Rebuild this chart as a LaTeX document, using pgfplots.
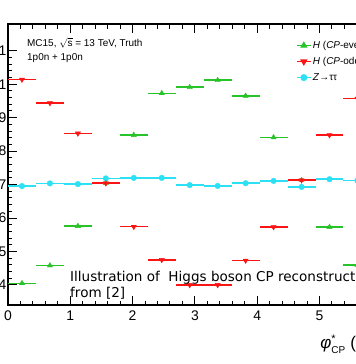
\documentclass[border=0pt]{standalone}
\usepackage{fontspec}
\setmainfont{Liberation Sans}
\newfontfamily\ovfont{DejaVu Sans}
\usepackage{pgfplots}
\usepackage{pgfplotstable}
\pgfplotsset{compat=1.18}
\pgfplotsset{mylegend/.style={legend image code/.code={\draw[mark repeat=2,mark phase=2,##1] plot coordinates {(0bp,0bp)(7bp,0bp)(14bp,0bp)};}}}
\definecolor{cgreen}{RGB}{40,195,40}
\definecolor{cred}{RGB}{250,20,20}
\definecolor{ccyan}{RGB}{45,225,245}
\pgfplotstableread{
x y ex
0.2244 0.0405 0.2244
0.6732 0.0458 0.2244
1.1220 0.0576 0.2244
1.5708 0.0704 0.2244
2.0196 0.0848 0.2244
2.4684 0.0973 0.2244
2.9172 0.0991 0.2244
3.3660 0.1012 0.2244
3.8148 0.0965 0.2244
4.2636 0.0841 0.2244
4.7124 0.0713 0.2244
5.1612 0.0573 0.2244
5.6100 0.0460 0.2244
6.0588 0.0406 0.2244
}\greentab
\pgfplotstableread{
x y ex
0.2244 0.1014 0.2244
0.6732 0.0944 0.2244
1.1220 0.0853 0.2244
1.5708 0.0704 0.2244
2.0196 0.0574 0.2244
2.4684 0.0475 0.2244
2.9172 0.0400 0.2244
3.3660 0.0400 0.2244
3.8148 0.0473 0.2244
4.2636 0.0573 0.2244
4.7124 0.0713 0.2244
5.1612 0.0848 0.2244
5.6100 0.0957 0.2244
6.0588 0.1010 0.2244
}\redtab
\pgfplotstableread{
x y ex
0.2244 0.06955 0.2244
0.6732 0.07036 0.2244
1.1220 0.07015 0.2244
1.5708 0.07185 0.2244
2.0196 0.0720 0.2244
2.4684 0.0720 0.2244
2.9172 0.06985 0.2244
3.3660 0.0696 0.2244
3.8148 0.0704 0.2244
4.2636 0.0711 0.2244
4.7124 0.0693 0.2244
5.1612 0.0716 0.2244
5.6100 0.0712 0.2244
6.0588 0.0702 0.2244
}\cyantab
\begin{document}
\begin{tikzpicture}
\useasboundingbox (-8bp,-59bp) rectangle (348bp,305bp);
\clip (-8bp,-59bp) rectangle (348bp,305bp);
\begin{axis}[
  at={(0,0)}, anchor=south west,
  scale only axis, width=391.4bp, height=281bp,
  xmin=0, xmax=6.2832, ymin=0.034, ymax=0.118,
  xtick={0,1,2,3,4,5,6}, minor x tick num=4,
  ytick={0.04,0.05,0.06,0.07,0.08,0.09,0.10,0.11},
  yticklabels={0.04,0.05,0.06,0.07,0.08,0.09,0.1,0.11},
  minor y tick num=4,
  tick align=inside,
  major tick length=9bp, minor tick length=4.5bp,
  axis line style={line width=1.2bp},
  every tick/.style={black, line width=1bp},
  /pgf/number format/assume math mode=true,
  ticklabel style={font=\fontsize{14}{16}\selectfont},
  yticklabel style={anchor=east, inner sep=0pt, xshift=-1.3bp},
  xticklabel style={anchor=north, inner sep=0pt, yshift=-6bp},
  xlabel={\textit{φ}$^{\mbox{\fontsize{11}{12}\selectfont *}}_{\mbox{\fontsize{10}{12}\selectfont CP}}$ (rad)},
  xlabel style={at={(axis description cs:1,0)}, anchor=north east, inner sep=0pt, yshift=-30bp, xshift=-13bp, font=\fontsize{17}{20}\selectfont},
  legend style={at={(0.7358,0.947)}, anchor=north west, draw=none, fill=none, inner sep=0pt, row sep=3bp,
    font=\fontsize{10}{12}\selectfont, nodes={inner sep=1.5bp, text height=7.5bp, text depth=2.5bp}},
  legend cell align=left,
]
\addlegendimage{cgreen, line width=1.3bp, mark=triangle*, mark size=3bp, mylegend}
\addlegendentry{\textit{H} (\textit{CP}-even)}
\addlegendimage{cred, line width=1.3bp, mark=triangle*, mark size=3bp, mark options={rotate=180}, mylegend}
\addlegendentry{\textit{H} (\textit{CP}-odd)}
\addlegendimage{ccyan, line width=1.3bp, mark=*, mark size=2.8bp, mylegend}
\addlegendentry{\textit{Z}→ττ}

\addplot[forget plot, only marks, ccyan, mark=*, mark size=2.8bp,
  error bars/.cd, x dir=both, x explicit, error mark=none,
  error bar style={line width=1.5bp, ccyan}]
  table[x=x, y=y, x error=ex] {\cyantab};
\addplot[forget plot, only marks, cgreen, mark=triangle*, mark size=3bp,
  error bars/.cd, x dir=both, x explicit, error mark=none,
  error bar style={line width=1.5bp, cgreen}]
  table[x=x, y=y, x error=ex] {\greentab};
\addplot[forget plot, only marks, cred, mark=triangle*, mark size=3bp, mark options={rotate=180},
  error bars/.cd, x dir=both, x explicit, error mark=none,
  error bar style={line width=1.5bp, cred}]
  table[x=x, y=y, x error=ex] {\redtab};
\end{axis}
\node[anchor=west, inner sep=0pt, font=\fontsize{10}{12}\selectfont] at (19bp,262bp) {MC15, $\sqrt{\mbox{s}}$ = 13 TeV, Truth};
\node[anchor=west, inner sep=0pt, font=\fontsize{10}{12}\selectfont] at (19bp,247bp) {1p0n + 1p0n};
\node[anchor=base west, inner sep=0pt, font=\ovfont\fontsize{13.6}{16}\selectfont] at (62bp,23.3bp) {Illustration of\ \ Higgs boson CP reconstruction};
\node[anchor=base west, inner sep=0pt, font=\ovfont\fontsize{13.6}{16}\selectfont] at (62bp,7.3bp) {from [2]};
\end{tikzpicture}
\end{document}
